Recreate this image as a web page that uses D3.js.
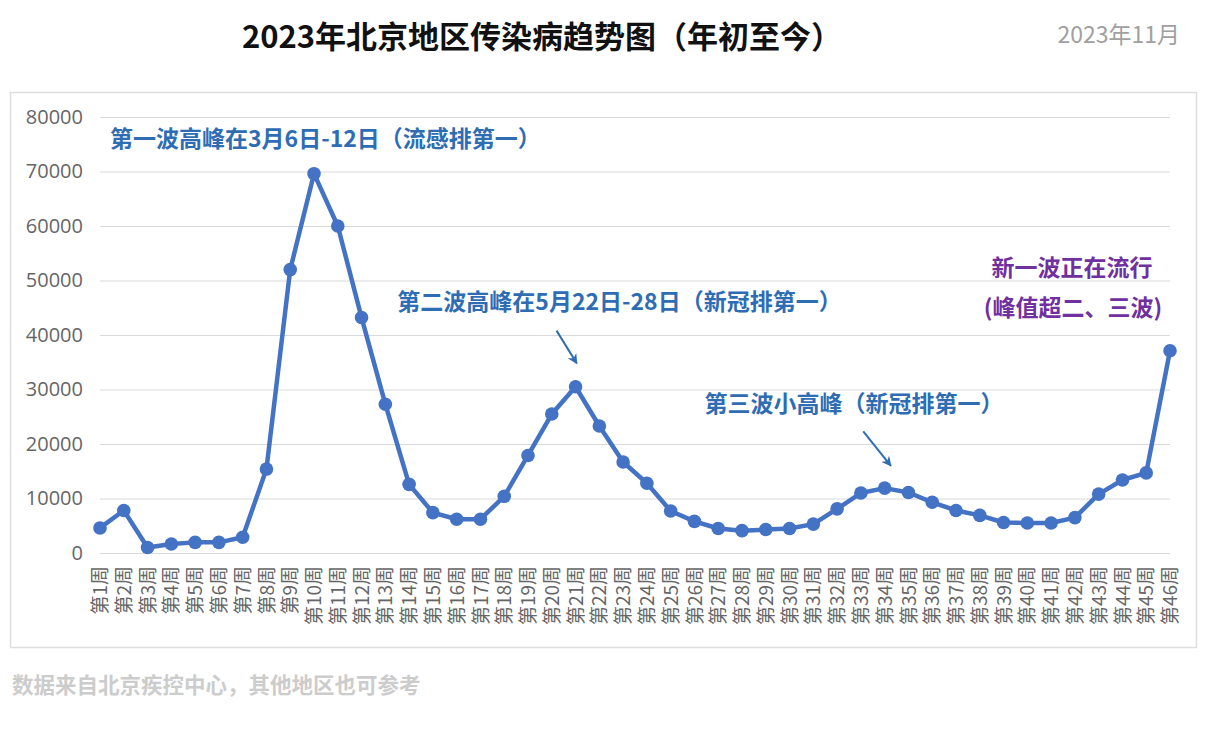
<!DOCTYPE html>
<html>
<head>
<meta charset="utf-8">
<script src="https://cdn.jsdelivr.net/npm/d3@7"></script>
<style>
  html, body { margin: 0; padding: 0; background: #ffffff; }
  svg { display: block; }
</style>
</head>
<body>
<svg id="chart" width="1205" height="735"></svg>
<script>
// ---- data ----
const weeks = d3.range(1, 47).map(i => "第" + i + "周");
const cases = [4600, 7800, 1000, 1650, 1950, 1950, 2900, 15400, 52000, 69600,
               60000, 43200, 27300, 12600, 7400, 6200, 6200, 10400, 17900, 25500,
               30500, 23300, 16700, 12800, 7700, 5800, 4500, 4100, 4300, 4500,
               5300, 8100, 11000, 11900, 11100, 9300, 7800, 6900, 5600, 5500,
               5500, 6500, 10800, 13400, 14700, 37100];
const yTicks = [0, 10000, 20000, 30000, 40000, 50000, 60000, 70000, 80000];
const titleText = "2023年北京地区传染病趋势图（年初至今）";
const dateText = "2023年11月";
const footerText = "数据来自北京疾控中心，其他地区也可参考";
const notes = [
  { text: "第一波高峰在3月6日-12日（流感排第一）", week: 1, value: 76000, color: "blue", dx: 10, anchor: "start" },
  { text: "第二波高峰在5月22日-28日（新冠排第一）", week: 13, value: 46000, color: "blue", dx: 12, anchor: "start" },
  { text: "第三波小高峰（新冠排第一）", week: 26, value: 27300, color: "blue", dx: 10, anchor: "start" },
  { text: "新一波正在流行", week: 42, value: 52300, color: "purple", dx: -3, anchor: "middle" },
  { text: "(峰值超二、三波)", week: 42, value: 45000, color: "purple", dx: -2, anchor: "middle" }
];
const arrows = [
  { fromWeek: 20.2, fromValue: 40800, toWeek: 21.05, toValue: 34800 },
  { fromWeek: 33.1, fromValue: 22300, toWeek: 34.26, toValue: 16000 }
];

// ---- layout ----
const svg = d3.select("#chart");
const mLeft = 100, mRight = 1170, mTop = 117, mBottom = 553;
const x = d3.scalePoint().domain(weeks).range([mLeft, mRight]).padding(0);
const y = d3.scaleLinear().domain([0, 80000]).range([mBottom, mTop]);
const xw = w => mLeft + (w - 1) * x.step();
const blue = "#4472C4", noteBlue = "#2E6DB4", purple = "#7030A0";
const cjk = "'Noto Sans CJK SC', 'Noto Sans', sans-serif";

// frame
svg.append("rect").attr("x", 10.5).attr("y", 92.5).attr("width", 1186).attr("height", 555)
  .attr("fill", "#fff").attr("stroke", "#dedede").attr("stroke-width", 1.5);

// title
svg.append("text").attr("x", 542).attr("y", 48).attr("text-anchor", "middle")
  .attr("font-family", cjk).attr("font-weight", 700).attr("font-size", 31)
  .attr("fill", "#111").text(titleText);
svg.append("text").attr("x", 1180).attr("y", 43).attr("text-anchor", "end")
  .attr("font-family", cjk).attr("font-size", 23).attr("fill", "#a0a0a0").text(dateText);

// y axis / grid
const yAxis = d3.axisLeft(y).tickValues(yTicks).tickSize(-(mRight - mLeft)).tickFormat(d3.format("d")).tickPadding(17);
const gy = svg.append("g").attr("transform", `translate(${mLeft},0)`).call(yAxis);
gy.select(".domain").remove();
gy.selectAll(".tick line").attr("stroke", "#d9d9d9").attr("stroke-width", 1.2);
gy.selectAll(".tick text").attr("font-family", "'Open Sans', 'Noto Sans', sans-serif")
  .attr("font-size", 20).attr("fill", "#666");

// x axis labels
const xAxis = d3.axisBottom(x).tickSize(0).tickPadding(0);
const gx = svg.append("g").attr("transform", `translate(0,${mBottom})`).call(xAxis);
gx.select(".domain").remove();
gx.selectAll(".tick text")
  .attr("font-family", cjk).attr("font-size", 19).attr("fill", "#666")
  .attr("text-anchor", "end").attr("dy", "0.35em")
  .attr("transform", "translate(0,13) rotate(-90)")
  .attr("x", 0).attr("y", 0);

// line
const line = d3.line().x((d, i) => x(weeks[i])).y(d => y(d));
svg.append("path").datum(cases).attr("d", line).attr("fill", "none")
  .attr("stroke", blue).attr("stroke-width", 4.5).attr("stroke-linejoin", "round");
svg.append("g").selectAll("circle").data(cases).join("circle")
  .attr("cx", (d, i) => x(weeks[i])).attr("cy", d => y(d)).attr("r", 6.8).attr("fill", blue);

// notes
svg.append("g").selectAll("text").data(notes).join("text")
  .attr("x", d => xw(d.week) + d.dx).attr("y", d => y(d.value))
  .attr("dy", "0.35em").attr("text-anchor", d => d.anchor)
  .attr("font-family", cjk).attr("font-weight", 700).attr("font-size", 23)
  .attr("fill", d => d.color === "purple" ? purple : noteBlue)
  .text(d => d.text);

// arrows
const defs = svg.append("defs");
defs.append("marker").attr("id", "ah").attr("viewBox", "0 0 10 10").attr("refX", 9).attr("refY", 5)
  .attr("markerWidth", 5).attr("markerHeight", 5).attr("orient", "auto")
  .append("path").attr("d", "M0,0 L10,5 L0,10 L3,5 Z").attr("fill", noteBlue);
svg.append("g").selectAll("line").data(arrows).join("line")
  .attr("x1", d => xw(d.fromWeek)).attr("y1", d => y(d.fromValue))
  .attr("x2", d => xw(d.toWeek)).attr("y2", d => y(d.toValue))
  .attr("stroke", noteBlue).attr("stroke-width", 2).attr("marker-end", "url(#ah)");

// footer
svg.append("text").attr("x", 12).attr("y", 693)
  .attr("font-family", cjk).attr("font-weight", 700).attr("font-size", 21.5)
  .attr("fill", "#cccccc").text(footerText);
</script>
</body>
</html>
